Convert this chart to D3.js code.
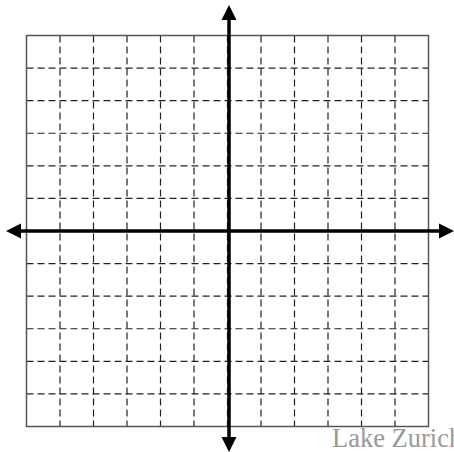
<!DOCTYPE html>
<html>
<head>
<meta charset="utf-8">
<script src="https://cdn.jsdelivr.net/npm/d3@7"></script>
<style>
  html, body { margin: 0; padding: 0; background: #fff; overflow: hidden; }
  svg { display: block; }
</style>
</head>
<body>
<svg id="chart" width="454" height="452"></svg>
<script>
const xTicks = [-6, -5, -4, -3, -2, -1, 0, 1, 2, 3, 4, 5, 6];
const yTicks = [-6, -5, -4, -3, -2, -1, 0, 1, 2, 3, 4, 5, 6];
const xDomain = [-6, 6];
const yDomain = [-6, 6];
const axisExtent = [-6.6, 6.6];
const watermark = "Lake Zurich";

const svg = d3.select("#chart");
const x = d3.scaleLinear().domain(xDomain).range([26.5, 428.5]);
const y = d3.scaleLinear().domain(yDomain).range([426.5, 35.5]);

const inner = xTicks.filter(t => t !== xDomain[0] && t !== xDomain[1]);
const innerY = yTicks.filter(t => t !== yDomain[0] && t !== yDomain[1]);

svg.append("g").selectAll("line").data(inner).join("line")
  .attr("x1", d => x(d)).attr("x2", d => x(d))
  .attr("y1", y(yDomain[1])).attr("y2", y(yDomain[0]))
  .attr("stroke", "#222").attr("stroke-width", 1.2)
  .attr("stroke-dasharray", "7,4");

svg.append("g").selectAll("line").data(innerY).join("line")
  .attr("y1", d => y(d)).attr("y2", d => y(d))
  .attr("x1", x(xDomain[0])).attr("x2", x(xDomain[1]))
  .attr("stroke", "#222").attr("stroke-width", 1.2)
  .attr("stroke-dasharray", "7,4");

svg.append("rect")
  .attr("x", x(xDomain[0])).attr("y", y(yDomain[1]))
  .attr("width", x(xDomain[1]) - x(xDomain[0]))
  .attr("height", y(yDomain[0]) - y(yDomain[1]))
  .attr("fill", "none").attr("stroke", "#555").attr("stroke-width", 1.5);

const ax = Math.round(x(0)) + 1;
const ay = Math.round(y(0));
const xa = d3.scaleLinear().domain(axisExtent).range([6, 454]);
const ya = d3.scaleLinear().domain(axisExtent).range([452, 5]);
const head = 14, half = 7.5;

svg.append("line")
  .attr("x1", xa(axisExtent[0]) + head).attr("x2", xa(axisExtent[1]) - head)
  .attr("y1", ay).attr("y2", ay)
  .attr("stroke", "#000").attr("stroke-width", 3.5);
svg.append("line")
  .attr("x1", ax).attr("x2", ax)
  .attr("y1", ya(axisExtent[1]) + head).attr("y2", ya(axisExtent[0]) - head)
  .attr("stroke", "#000").attr("stroke-width", 3.5);

const heads = [
  [[xa(axisExtent[0]), ay], [xa(axisExtent[0]) + head + 1, ay - half], [xa(axisExtent[0]) + head + 1, ay + half]],
  [[xa(axisExtent[1]), ay], [xa(axisExtent[1]) - head - 1, ay - half], [xa(axisExtent[1]) - head - 1, ay + half]],
  [[ax, ya(axisExtent[1])], [ax - half, ya(axisExtent[1]) + head + 1], [ax + half, ya(axisExtent[1]) + head + 1]],
  [[ax, ya(axisExtent[0])], [ax - half, ya(axisExtent[0]) - head - 1], [ax + half, ya(axisExtent[0]) - head - 1]]
];
svg.append("g").selectAll("path").data(heads).join("path")
  .attr("d", d => d3.line()(d) + "Z")
  .attr("fill", "#000");

svg.append("text")
  .attr("x", 332).attr("y", 447)
  .attr("font-family", "'Liberation Serif', 'Times New Roman', serif")
  .attr("font-size", 26.5)
  .attr("fill", "#999")
  .text(watermark);
</script>
</body>
</html>
